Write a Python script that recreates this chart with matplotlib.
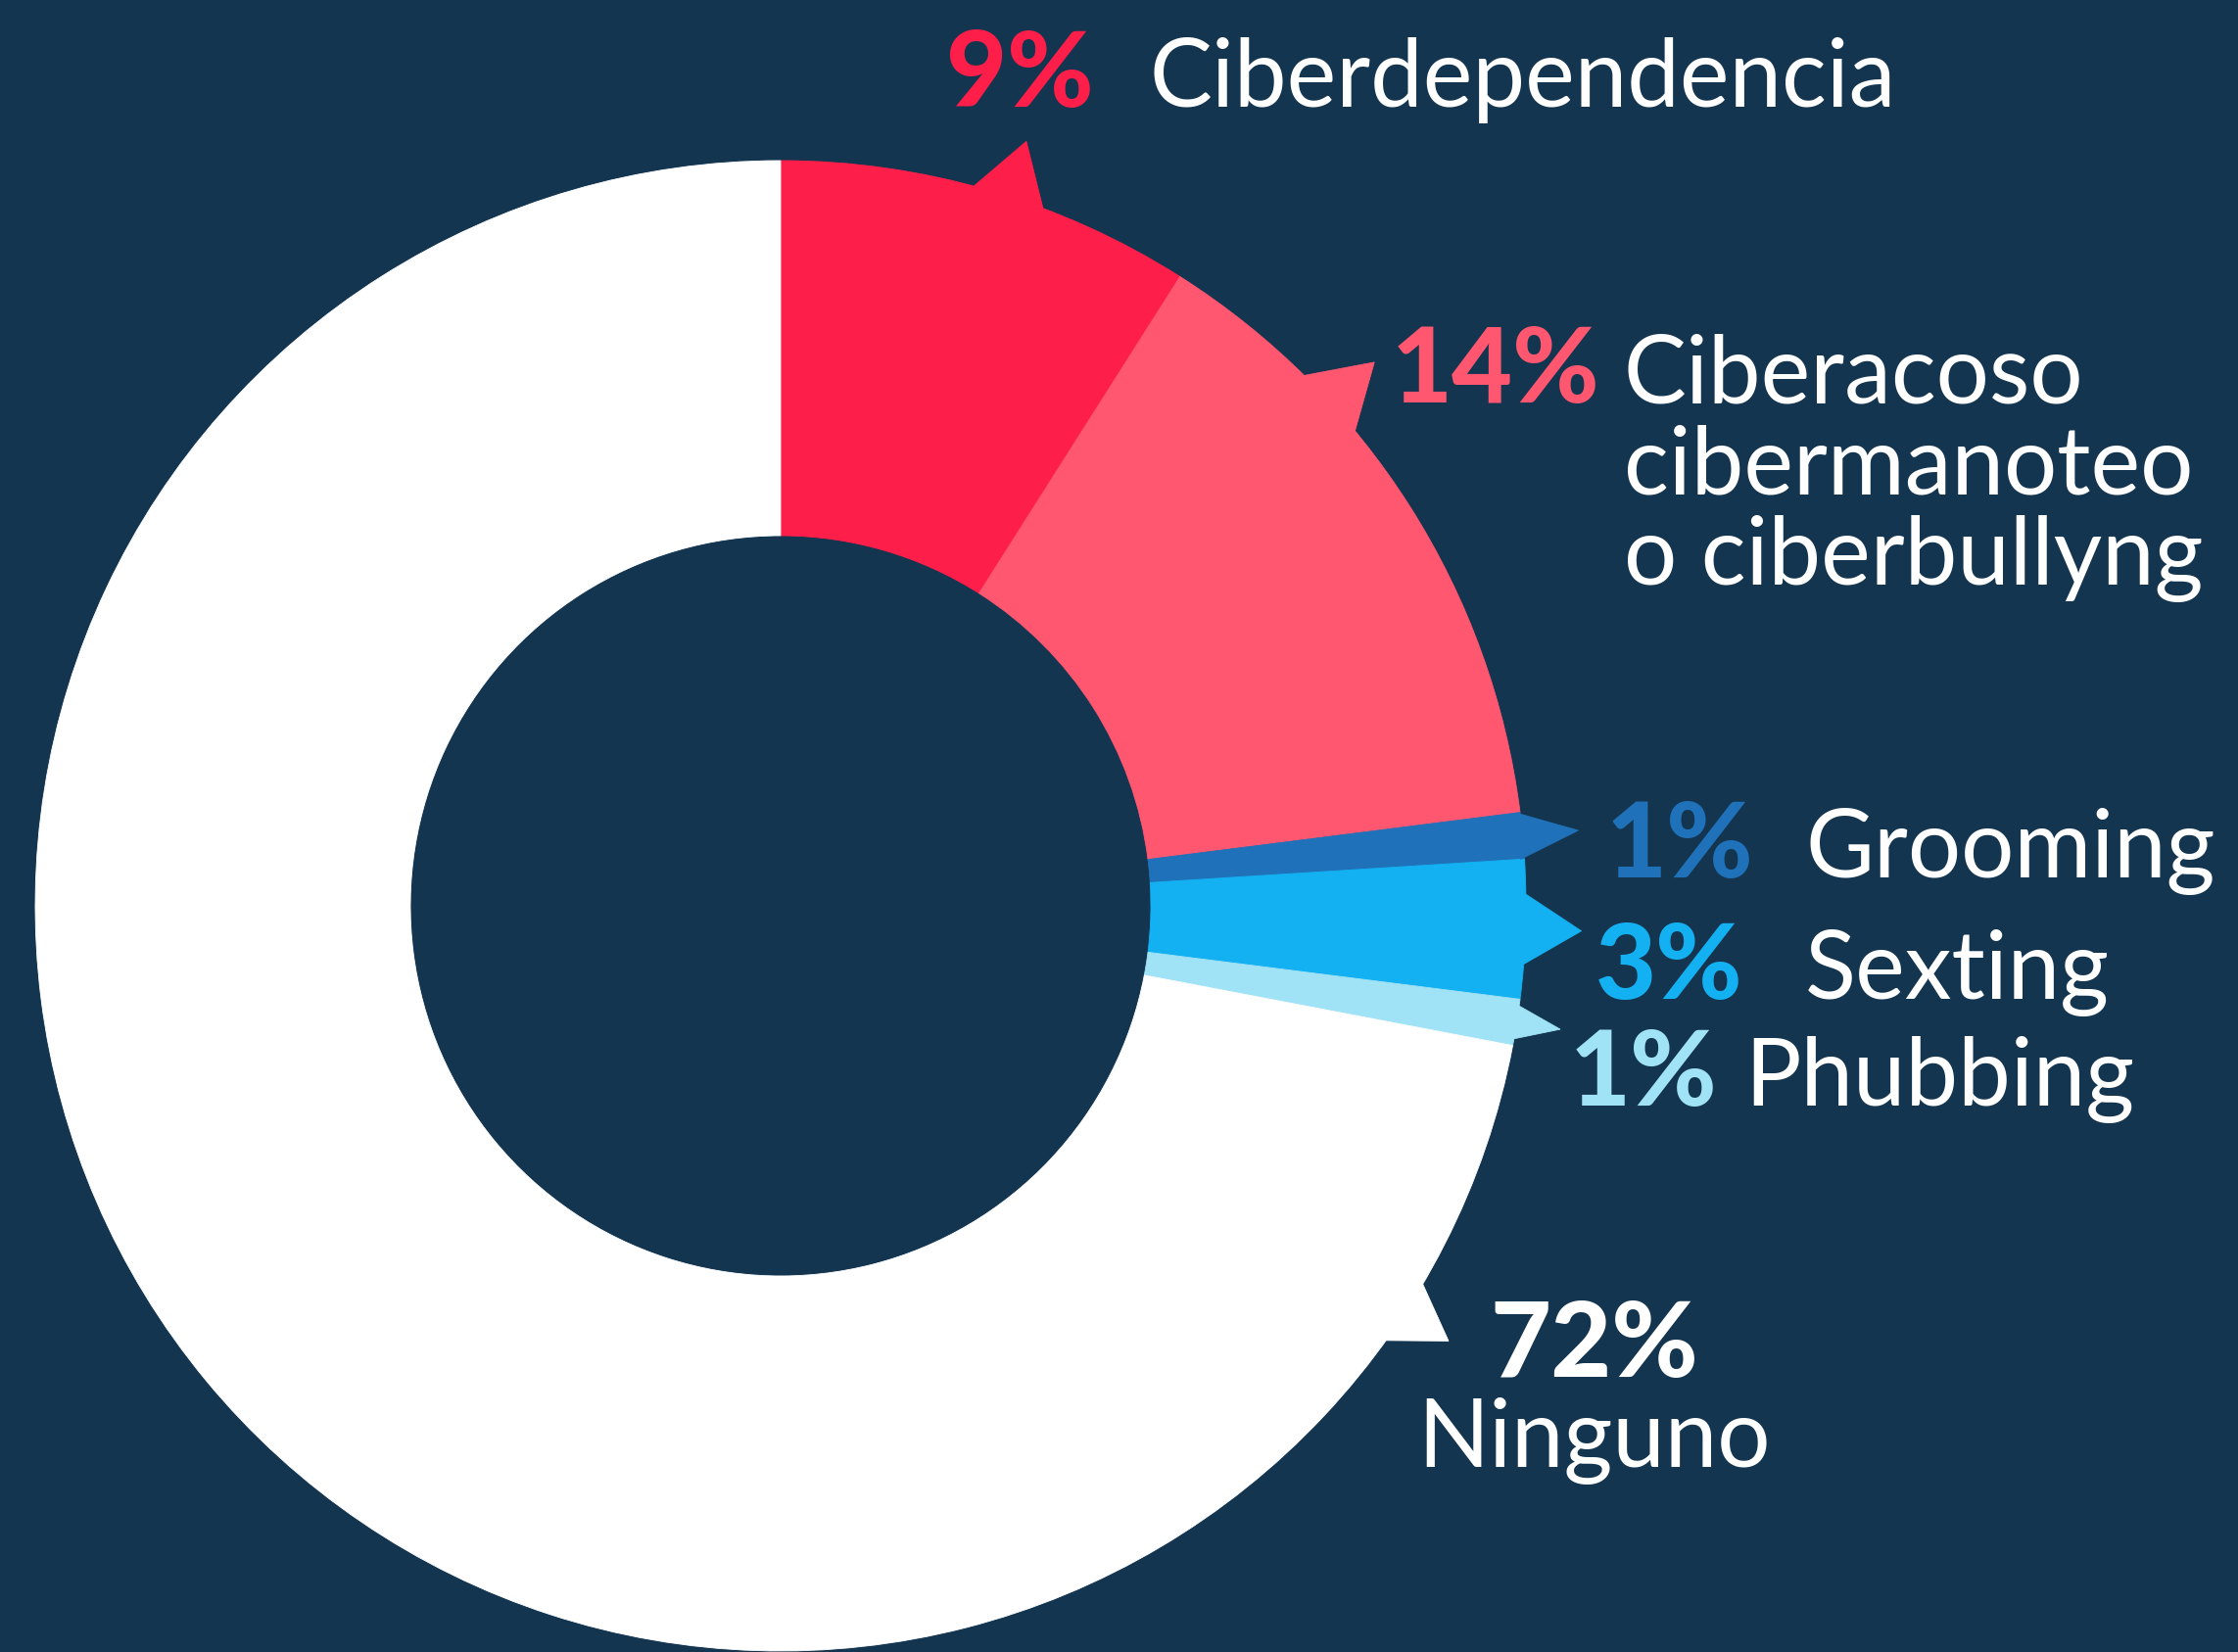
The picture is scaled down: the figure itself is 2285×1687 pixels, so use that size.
import numpy as np
import matplotlib
matplotlib.use("Agg")
import matplotlib.pyplot as plt
from matplotlib.patches import Polygon

# data
categories = ["Ciberdependencia", "Ciberacoso\ncibermanoteo\no ciberbullyng",
              "Grooming", "Sexting", "Phubbing", "Ninguno"]
shares = [9, 14, 1, 3, 1, 72]
pct_labels = ["9%", "14%", "1%", "3%", "1%", "72%"]

# house style
BG = "#14354F"
COLORS = ["#FE1E4A", "#FF5770", "#1F72BA", "#14B1F2", "#A0E3F6", "#FFFFFF"]
TXT = "#FFFFFF"
FONT = "Lato"

W, H = 2285, 1687
CX, CY = 797, H - 925
R_OUT, R_IN = 761, 378

# tab (pointer) placement: position within wedge (0..1), half width deg, tip radius
TABS = [(0.55, 3.0, 820), (0.30, 3.1, 822), (0.5, 1.8, 818),
        (0.5, 2.9, 818), (0.5, 1.4, 806), (0.086, 2.8, 814)]

# label layout (pixel coords, y measured from top): pct x, text x, baseline y
LAYOUT = [
    dict(px=966, tx=1173, y=109),
    dict(px=1421, tx=1658, y=411),
    dict(px=1640, tx=1843, y=896),
    dict(px=1629, tx=1843, y=1020),
    dict(px=1603, tx=1781, y=1129),
]
LINE_STEP = 93


def pt(theta_deg, r):
    t = np.radians(theta_deg)
    return (CX + r * np.sin(t), CY + r * np.cos(t))


fig = plt.figure(figsize=(W / 100, H / 100), dpi=100, facecolor=BG)
ax = fig.add_axes([0, 0, 1, 1])
ax.set_facecolor(BG)

wedges, _ = ax.pie(shares, colors=COLORS, startangle=90, counterclock=False,
                   radius=R_OUT, center=(CX, CY), frame=True,
                   wedgeprops=dict(width=R_OUT - R_IN, linewidth=0.6))
for w, c in zip(wedges, COLORS):
    w.set_edgecolor(c)

# pointer tabs on the outer rim
bounds = np.concatenate([[0], np.cumsum(shares)]) / sum(shares) * 360
for i, (frac, hw, rtip) in enumerate(TABS):
    a0, a1 = bounds[i], bounds[i + 1]
    c = a0 + frac * (a1 - a0)
    verts = [pt(c - hw, R_OUT - 4), pt(c, rtip), pt(c + hw, R_OUT - 4)]
    ax.add_patch(Polygon(verts, closed=True, facecolor=COLORS[i],
                         edgecolor=COLORS[i], linewidth=0.6, zorder=3))

ax.set_xlim(0, W)
ax.set_ylim(0, H)
ax.set_aspect("equal")
ax.set_axis_off()

for i, lay in enumerate(LAYOUT):
    y = H - lay["y"]
    ax.text(lay["px"], y, pct_labels[i], color=COLORS[i], fontsize=77,
            fontweight="black", family=FONT, ha="left", va="baseline")
    for j, line in enumerate(categories[i].split("\n")):
        ax.text(lay["tx"], y - j * LINE_STEP, line, color=TXT, fontsize=69,
                family=FONT, ha="left", va="baseline")

# Ninguno, centered below the ring pointer
ax.text(1628, H - 1406, pct_labels[5], color=TXT, fontsize=77,
        fontweight="black", family=FONT, ha="center", va="baseline")
ax.text(1628, H - 1498, categories[5], color=TXT, fontsize=69,
        family=FONT, ha="center", va="baseline")

fig.savefig("out.png", dpi=100, facecolor=BG)
